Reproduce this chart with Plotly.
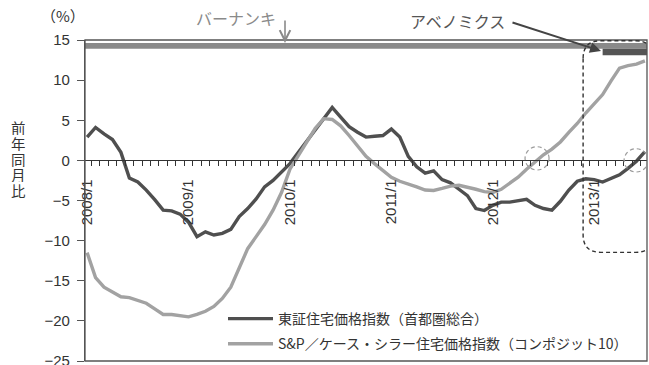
import plotly.graph_objects as go

# Month labels, 2008/1 .. 2013/7
months = [f"{2008 + k // 12}/{k % 12 + 1}" for k in range(67)]
year_ticks = ["2008/1", "2009/1", "2010/1", "2011/1", "2012/1", "2013/1"]

# Year-on-year change (%)
tse_tokyo = [2.9, 4.1, 3.3, 2.6, 1.0, -2.2, -2.7, -3.7, -4.9, -6.2,
             -6.3, -6.7, -7.7, -9.5, -8.9, -9.3, -9.1, -8.6, -7.0, -6.0,
             -4.8, -3.3, -2.5, -1.5, -0.4, 1.0, 2.4, 3.8, 5.2, 6.6,
             5.4, 4.2, 3.5, 2.9, 3.0, 3.1, 3.9, 2.9, 0.5, -0.8,
             -1.6, -1.3, -2.4, -2.8, -3.6, -4.4, -6.0, -6.25, -5.6, -5.2,
             -5.2, -5.0, -4.85, -5.6, -6.0, -6.2, -5.1, -3.7, -2.6, -2.3,
             -2.4, -2.7, -2.2, -1.8, -1.0, -0.1, 1.1]
case_shiller_10 = [-11.5, -14.6, -15.8, -16.4, -17.0, -17.1, -17.5, -17.8, -18.5, -19.2,
                   -19.2, -19.3, -19.5, -19.2, -18.8, -18.2, -17.2, -15.8, -13.5, -11.0,
                   -9.5, -8.0, -6.2, -4.0, -1.1, 0.7, 2.3, 4.0, 5.2, 5.1,
                   4.3, 3.1, 1.8, 0.5, -0.4, -1.3, -2.1, -2.6, -2.9, -3.3,
                   -3.7, -3.75, -3.5, -3.2, -3.1, -3.3, -3.6, -3.9, -4.0, -3.6,
                   -2.9, -2.1, -1.1, -0.2, 0.7, 1.4, 2.3, 3.5, 4.6, 5.9,
                   7.0, 8.2, 9.9, 11.5, 11.8, 12.0, 12.4]

series_names = ["東証住宅価格指数（首都圏総合）",
                "S&P／ケース・シラー住宅価格指数（コンポジット10）"]

x_idx = list(range(len(months)))
tick_idx = [months.index(t) for t in year_ticks]

# Policy-era bars (month index spans)
bernanke_span = (-0.25, 66.25)
abenomics_span = (61.0, 66.25)

W, H = 649, 365
PL, PR, PT, PB = 85, 647, 40, 361


def px_x(px):
    return (px - PL) / (PR - PL)


def px_y(py):
    return (PB - py) / (PB - PT)


FONT = "Liberation Sans, Arial, Noto Sans CJK JP"
JP = "Noto Sans CJK JP, Liberation Sans"
DARK = "#4f4f4f"
LIGHT = "#a2a2a2"

fig = go.Figure()
fig.add_trace(go.Scatter(x=x_idx, y=tse_tokyo, mode="lines", name=series_names[0],
                         line=dict(color=DARK, width=3.4), legendgroup="a"))
fig.add_trace(go.Scatter(x=x_idx, y=case_shiller_10, mode="lines", name=series_names[1],
                         line=dict(color=LIGHT, width=3.4), legendgroup="b"))

shapes = [
    # frame
    dict(type="rect", xref="paper", yref="paper", x0=0, x1=1, y0=0, y1=1,
         line=dict(color="#555555", width=1.3)),
    # Bernanke bar
    dict(type="rect", xref="x", yref="y", x0=bernanke_span[0], x1=bernanke_span[1],
         y0=13.9, y1=14.62, fillcolor="#8a8a8a", line=dict(width=0), layer="below"),
    # Abenomics bar
    dict(type="rect", xref="x", yref="y", x0=abenomics_span[0], x1=abenomics_span[1],
         y0=13.1, y1=13.9, fillcolor="#555555", line=dict(width=0), layer="below"),
]

# dashed rounded box around the Abenomics period
x0b, x1b, y0b, y1b = 58.69, 67.0, -11.46, 14.9
rx, ry = 2.1, 2.2
box_path = (f"M{x0b},{y1b - ry} L{x0b},{y0b + ry} Q{x0b},{y0b} {x0b + rx},{y0b} "
            f"L{x1b - rx},{y0b} Q{x1b},{y0b} {x1b},{y0b + ry} "
            f"L{x1b},{y1b - ry} Q{x1b},{y1b} {x1b - rx},{y1b} "
            f"L{x0b + rx},{y1b} Q{x0b},{y1b} {x0b},{y1b - ry}")
shapes.append(dict(type="path", xref="x", yref="y", path=box_path,
                   line=dict(color="#333333", width=1.4, dash="4px,3px")))

# dashed circles at the zero crossings
for cx, cy in [(53.24, 0.25), (64.96, 0.0)]:
    shapes.append(dict(type="circle", xref="x", yref="y",
                       x0=cx - 1.42, x1=cx + 1.42, y0=cy - 1.45, y1=cy + 1.45,
                       line=dict(color="#9a9a9a", width=1.2, dash="4px,3px")))


def label(text, px, py, size, color, family=JP, **kw):
    return dict(text=text, xref="paper", yref="paper", x=px_x(px), y=px_y(py),
                xanchor="center", yanchor="middle", showarrow=False,
                font=dict(family=family, size=size, color=color), **kw)


annotations = [
    label("（%）", 63, 16, 15, "#333333"),
    label("バーナンキ", 236, 18, 16, "#8a8a8a"),
    dict(text="", xref="paper", yref="paper", x=px_x(285), y=px_y(43),
         ax=0, ay=-24, showarrow=True, arrowhead=5, arrowsize=1.3, arrowwidth=1.6,
         arrowcolor="#8a8a8a", standoff=0),
    label("アベノミクス", 457, 21, 16, "#555555"),
    dict(text="", xref="paper", yref="paper", x=px_x(601), y=px_y(51),
         ax=-90, ay=-29, showarrow=True, arrowhead=2, arrowsize=1.1, arrowwidth=2,
         arrowcolor="#444444", standoff=0),
]

# vertical axis title, stacked one character at a time
for k, ch in enumerate("前年同月比"):
    annotations.append(label(ch, 18, 127.5 + 15.8 * k, 14.5, "#333333", height=15))

fig.update_layout(
    width=W, height=H,
    margin=dict(l=PL, r=W - PR, t=PT, b=H - PB, autoexpand=False),
    paper_bgcolor="white", plot_bgcolor="white",
    font=dict(family=FONT, size=15, color="#333333"),
    shapes=shapes, annotations=annotations,
    showlegend=True,
    legend=dict(x=px_x(223), y=px_y(303), xanchor="left", yanchor="top",
                bgcolor="rgba(0,0,0,0)", font=dict(family=JP, size=14, color="#333333"),
                tracegroupgap=4, itemwidth=45),
    xaxis=dict(range=[-0.25, 66.25], anchor="free", position=25 / 40,
               showline=True, linecolor="#333333", linewidth=1.2,
               tickmode="array", tickvals=tick_idx, ticktext=year_ticks,
               tickangle=-90, ticks="", ticklabelstandoff=12, automargin=False,
               tickfont=dict(family=FONT, size=15, color="#333333"),
               minor=dict(ticks="outside", tick0=0.5, dtick=1, ticklen=5,
                          tickcolor="#333333", tickwidth=1),
               showgrid=False, zeroline=False),
    yaxis=dict(range=[-25, 15], dtick=5, tick0=0, showline=True,
               linecolor="#555555", linewidth=1.3, ticks="outside", ticklen=7,
               tickcolor="#555555", tickfont=dict(family=FONT, size=15, color="#333333"),
               showgrid=False, zeroline=False, ticklabelstandoff=4,
               ticklabeloverflow="allow", automargin=False),
)

fig.write_html("out.html")
